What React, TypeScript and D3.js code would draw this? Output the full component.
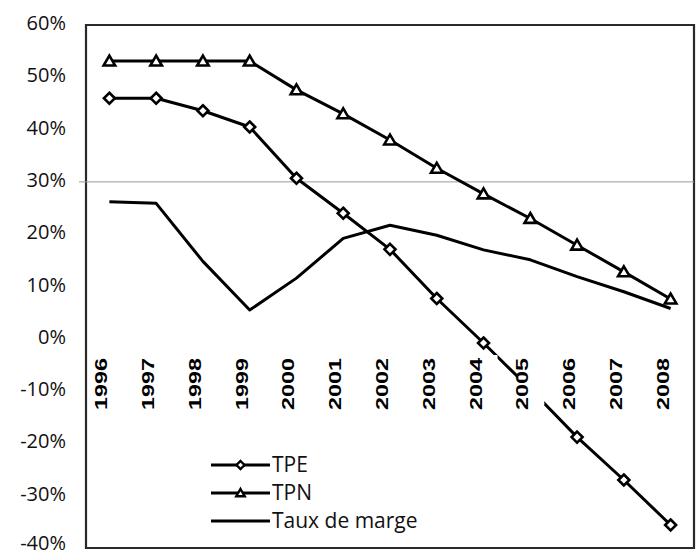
import React from "react";
import * as d3 from "d3";

const years = ["1996","1997","1998","1999","2000","2001","2002","2003","2004","2005","2006","2007","2008"];
const tpe = [46.0, 46.0, 43.6, 40.5, 30.7, 24.0, 17.1, 7.7, -0.8, -9.6, -18.8, -27.0, -35.6];
const tpn = [53.1, 53.1, 53.1, 53.1, 47.6, 43.0, 38.0, 32.6, 27.7, 23.0, 17.9, 12.8, 7.6];
const taux = [26.2, 25.9, 14.8, 5.5, 11.6, 19.2, 21.7, 19.8, 17.0, 15.1, 11.9, 9.0, 5.8];
const yTicks = [60, 50, 40, 30, 20, 10, 0, -10, -20, -30, -40];
const legendItems = ["TPE", "TPN", "Taux de marge"];

const W = 698, H = 554;
const L = 86, R = 694, T = 25, B = 548;
const FONT = "'Open Sans', 'Lato', sans-serif";

export default function App() {
  const x = d3.scalePoint<string>().domain(years).range([L, R]).padding(0.5);
  const y = d3.scaleLinear().domain([-40, 60]).range([B, T]);
  const line = d3.line<number>().x((_, i) => x(years[i])!).y((v) => y(v));

  const diamond = (cx: number, cy: number, r: number) =>
    `M${cx},${cy - r}L${cx + r},${cy}L${cx},${cy + r}L${cx - r},${cy}Z`;
  const tri = (cx: number, cy: number, r: number) =>
    `M${cx},${cy - r}L${cx + r * 1.05},${cy + r * 0.8}L${cx - r * 1.05},${cy + r * 0.8}Z`;

  const labTop = 355, labBot = 411;

  return (
    <div style={{ position: "fixed", left: 0, top: 0, width: W, height: H }}>
      <svg width={W} height={H} style={{ display: "block", background: "#fff" }}>
        {/* frame */}
        <path d={`M${L},${T}H${R}V${B}H${L}Z`} fill="none" stroke="#2a2a2a" strokeWidth={2.2} />
        {/* gridline 30% */}
        <line x1={79} x2={R} y1={y(30)} y2={y(30)} stroke="#9a9a9a" strokeWidth={1} />
        {/* series: taux */}
        <path d={line(taux)!} fill="none" stroke="#000" strokeWidth={3} strokeLinejoin="round" />
        {/* TPN */}
        <path d={line(tpn)!} fill="none" stroke="#000" strokeWidth={3} strokeLinejoin="round" />
        {tpn.map((v, i) => (
          <path key={"n" + i} d={tri(x(years[i])!, y(v), 5.5)} fill="#fff" stroke="#000" strokeWidth={2.6} />
        ))}
        {/* TPE */}
        <path d={line(tpe)!} fill="none" stroke="#000" strokeWidth={3} strokeLinejoin="round" />
        {tpe.map((v, i) => (
          <path key={"e" + i} d={diamond(x(years[i])!, y(v), 5.5)} fill="#fff" stroke="#000" strokeWidth={2.6} />
        ))}
        {/* category labels with white background */}
        {years.map((yr) => {
          const cx = x(yr)! - 8;
          return (
            <g key={yr}>
              <rect x={cx - 4} y={labTop} width={26} height={labBot - labTop - 6} fill="#fff" />
              <text
                transform={`translate(${cx + 6},${labBot - 1}) rotate(-90)`}
                fontFamily="'Liberation Sans', Arial, sans-serif"
                fontWeight="bold"
                fontSize={16.5}
                textLength={52}
                lengthAdjust="spacingAndGlyphs"
                fill="#000"
              >
                {yr}
              </text>
            </g>
          );
        })}
        {/* y labels */}
        {yTicks.map((t) => (
          <text key={t} x={66} y={Math.min(y(t) + 5, 550)} textAnchor="end" fontFamily={FONT} fontSize={20} fill="#111">
            {t + "%"}
          </text>
        ))}
        {/* legend */}
        {legendItems.map((name, i) => {
          const ly = 465 + i * 28;
          return (
            <g key={name}>
              <line x1={211} x2={270} y1={ly} y2={ly} stroke="#000" strokeWidth={3} />
              {i === 0 && <path d={diamond(240.5, ly, 4)} fill="#fff" stroke="#000" strokeWidth={2.4} />}
              {i === 1 && <path d={tri(240.5, ly, 4)} fill="#fff" stroke="#000" strokeWidth={2.4} />}
              <text x={272} y={ly + 7} fontFamily={FONT} fontSize={21} fill="#111">
                {name}
              </text>
            </g>
          );
        })}
      </svg>
    </div>
  );
}
